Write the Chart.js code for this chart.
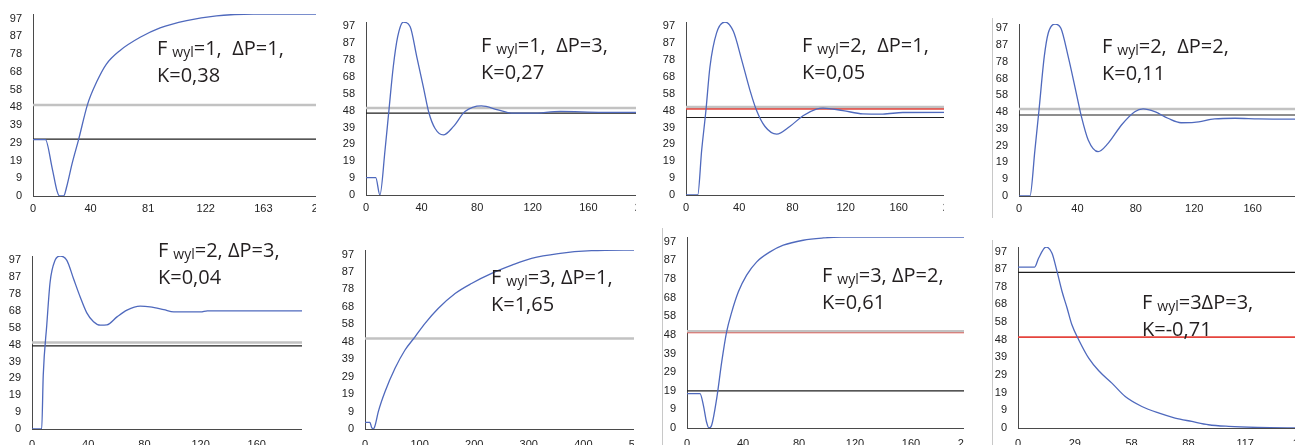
<!DOCTYPE html>
<html>
<head>
<meta charset="utf-8">
<script src="https://cdn.jsdelivr.net/npm/chart.js@4.4.1/dist/chart.umd.min.js"></script>
<style>
  body { margin: 0; background: #fff; width: 1295px; height: 445px; overflow: hidden; position: relative; }
  .panel { position: absolute; overflow: hidden; }
  .panel canvas { position: absolute; }
  .note { position: absolute; font-family: "Open Sans", sans-serif; font-size: 20px; line-height: 25px;
          color: #231f20; white-space: pre; }
  .note .sub { font-size: 14px; position: relative; top: 2px; margin-left: 5px; }
  .sep { position: absolute; width: 1px; background: #c8c8c8; }
</style>
</head>
<body>
<script>
// y axis is the same on every panel: 0..100, labels every 9.75
var yTickLabels = ['0','9','19','29','39','48','58','68','78','87','97'];
var yTickTop = 97.5;

// panel 1: Fwyl=1, dP=1
var p1Time  = [0, 8.8, 13.5, 17, 18.8, 21.7, 24, 27.6, 32.3, 38.7, 45.3, 52, 61.7, 75.9, 90, 108.8, 130, 156, 204];
var p1Value = [31, 31, 15.6, 2.8, 0, 0, 5.5, 17.5, 31, 50.5, 63, 72.5, 80, 87.2, 92.4, 96.4, 99, 100, 100];
var p1XMax = 204;
var p1XLabels = ['0','40','81','122','163','204'];
var p1Lines = [['grey', 50], ['black', 31.2]];

// panel 2: Fwyl=1, dP=3
var p2Time  = [0, 7, 10, 13.7, 16.5, 19.6, 22.8, 26.8, 31.7, 36.5, 41.2, 45.3, 49.6, 55.6, 62.8, 71.2, 83, 95, 104.7, 119, 140, 170, 200];
var p2Value = [10, 10, 0, 26, 49, 74, 91.5, 100, 97.4, 80, 62.7, 47.4, 38.6, 34.7, 39.5, 48.2, 51.5, 49.2, 47.3, 47.3, 48.3, 47.8, 47.8];
var p2XMax = 200;
var p2XLabels = ['0','40','80','120','160','200'];
var p2Lines = [['grey', 50.3], ['black', 47.3]];

// panel 3: Fwyl=2, dP=1
var p3Time  = [0, 8.8, 11.8, 15, 18, 23, 29.3, 35.6, 41.9, 48, 53, 59.4, 68.2, 78, 88, 98, 103, 118, 133, 148, 163, 200];
var p3Value = [0, 0, 26, 49, 74, 93.7, 100, 94.6, 78, 60.8, 49, 39.6, 35.2, 39.6, 45.8, 49.6, 50.2, 48.8, 46.9, 46.8, 47.7, 47.8];
var p3XMax = 200;
var p3XLabels = ['0','40','80','120','160','200'];
var p3Lines = [['grey', 50.8], ['red', 49.8], ['black', 44.8]];

// panel 4: Fwyl=2, dP=2
var p4Time  = [0, 7.5, 10.9, 13.7, 17.3, 20, 24.6, 28.7, 33.7, 38.3, 42.8, 47.4, 54.2, 61, 70.2, 79.3, 85, 93, 102, 111, 120, 134, 148, 164, 200];
var p4Value = [0, 0, 26.7, 50, 81, 94.6, 100, 97.5, 81, 63.5, 46, 32.6, 25.8, 30.6, 41.3, 49, 50.6, 49, 45.2, 42.6, 42.8, 44.8, 45.2, 44.8, 44.6];
var p4XMax = 200;
var p4XLabels = ['0','40','80','120','160','200'];
var p4Lines = [['grey', 50.6], ['black', 47.1]];

// panel 5: Fwyl=2, dP=3
var p5Time  = [0, 6.9, 8, 10.5, 12.9, 16.4, 20, 24.8, 29.5, 34.3, 38.9, 43.8, 48.6, 53.3, 60.5, 67.6, 77, 84, 93.8, 100.9, 120, 124.8, 200];
var p5Value = [0, 0, 31, 60, 85, 97.5, 100, 97.5, 87, 76.3, 67.3, 62, 60, 60.2, 64.8, 68.7, 71, 70.6, 69, 67.7, 67.7, 68.3, 68.3];
var p5XMax = 200;
var p5XLabels = ['0','40','80','120','160','200'];
var p5Lines = [['grey', 50], ['black', 48]];

// panel 6: Fwyl=3, dP=1
var p6Time  = [0, 9, 12, 15, 18, 24.4, 36.6, 55, 73, 91.6, 110, 134, 165, 195, 232, 269, 305, 354, 415, 500];
var p6Value = [3.7, 3.7, 1, 0, 1.5, 9.7, 20.8, 33.9, 44, 51.5, 59, 67.3, 75.7, 81.3, 86.9, 91.5, 95.3, 98, 99.6, 100];
var p6XMax = 500;
var p6XLabels = ['0','100','200','300','400','500'];
var p6Lines = [['grey', 50.6]];

// panel 7: Fwyl=3, dP=2
var p7Time  = [0, 9.3, 11.7, 14, 15.7, 17.6, 21.2, 24.8, 28.3, 32, 36.7, 42.6, 49.8, 59.3, 68.8, 83, 97.4, 110, 200];
var p7Value = [18, 18, 11.9, 3, 0, 1.4, 15.4, 34.6, 50.3, 60.8, 71.3, 80, 87, 92.2, 95.7, 98.3, 99.5, 100, 100];
var p7XMax = 200;
var p7XLabels = ['0','40','80','120','160','200'];
var p7Lines = [['grey', 50.7], ['red', 50], ['black', 19.4]];

// panel 8: Fwyl=3, dP=3
var p8Time  = [0, 8.6, 10.7, 14.5, 17.6, 20.2, 22.8, 25.4, 27.9, 31.4, 36.6, 41.8, 48.6, 55.5, 64.1, 72.7, 81.3, 90, 98.6, 109, 124, 147];
var p8Value = [88.9, 88.9, 93.9, 100, 96.6, 86.5, 75.4, 66.3, 57, 48.8, 38.6, 31.6, 24.8, 17.4, 11.9, 8.3, 5.5, 3.6, 1.8, 0.9, 0.3, 0];
var p8XMax = 147;
var p8XLabels = ['0','29','58','88','117','147'];
var p8Lines = [['black', 86], ['red', 50.2]];

// the labels written on each panel
var noteLine1 = ['=1,  \u0394P=1,', '=1,  \u0394P=3,', '=2,  \u0394P=1,', '=2,  \u0394P=2,',
                 '=2, \u0394P=3,', '=3, \u0394P=1,', '=3, \u0394P=2,', '=3\u0394P=3,'];
var noteLine2 = ['K=0,38', 'K=0,27', 'K=0,05', 'K=0,11', 'K=0,04', 'K=1,65', 'K=0,61', 'K=-0,71'];

var lineColors = { grey: '#c2c2c2', black: '#1e1e1e', red: '#e5443d' };
var lineWidths = { grey: 2.5, black: 1.2, red: 1.6 };

// where each panel sits on the page (clip box, y axis x, x axis y, y of 100, x of xMax)
var layout = [
  { clip: [0, 0, 316, 222],      axisX: 33,   bottom: 195,   top: 13.5,  right: 321,  xPad: 6, note: [157, 36] },
  { clip: [325, 0, 636, 222],    axisX: 366,  bottom: 195,   top: 22,    right: 644,  xPad: 6, note: [481, 33] },
  { clip: [650, 0, 944, 222],    axisX: 686,  bottom: 195,   top: 22.4,  right: 952,  xPad: 6, note: [802, 33] },
  { clip: [975, 0, 1295, 222],   axisX: 1019, bottom: 196,   top: 24,    right: 1311, xPad: 6, note: [1102, 34] },
  { clip: [0, 225, 302, 445],    axisX: 32,   bottom: 429,   top: 255.7, right: 313,  xPad: 9, note: [158, 238] },
  { clip: [325, 225, 634, 445],  axisX: 365,  bottom: 429,   top: 249.8, right: 638,  xPad: 9, note: [491, 265] },
  { clip: [650, 225, 964, 445],  axisX: 687,  bottom: 427.7, top: 236.9, right: 967,  xPad: 9, note: [822, 263] },
  { clip: [975, 225, 1295, 445], axisX: 1018, bottom: 428.3, top: 247.2, right: 1302, xPad: 9, note: [1142, 290] }
];

var panels = [
  { time: p1Time, value: p1Value, xMax: p1XMax, xLabels: p1XLabels, lines: p1Lines },
  { time: p2Time, value: p2Value, xMax: p2XMax, xLabels: p2XLabels, lines: p2Lines },
  { time: p3Time, value: p3Value, xMax: p3XMax, xLabels: p3XLabels, lines: p3Lines },
  { time: p4Time, value: p4Value, xMax: p4XMax, xLabels: p4XLabels, lines: p4Lines },
  { time: p5Time, value: p5Value, xMax: p5XMax, xLabels: p5XLabels, lines: p5Lines },
  { time: p6Time, value: p6Value, xMax: p6XMax, xLabels: p6XLabels, lines: p6Lines },
  { time: p7Time, value: p7Value, xMax: p7XMax, xLabels: p7XLabels, lines: p7Lines },
  { time: p8Time, value: p8Value, xMax: p8XMax, xLabels: p8XLabels, lines: p8Lines }
];

var tickFont = { family: '"Liberation Sans", Arial, sans-serif', size: 11 };

function drawPanel(i) {
  var p = panels[i], g = layout[i];
  var div = document.createElement('div');
  div.className = 'panel';
  div.style.left = g.clip[0] + 'px';
  div.style.top = g.clip[1] + 'px';
  div.style.width = (g.clip[2] - g.clip[0]) + 'px';
  div.style.height = (g.clip[3] - g.clip[1]) + 'px';
  document.body.appendChild(div);

  var padTop = 10, padRight = 20, xAxisH = 30;
  var cTop = g.top - padTop;
  var canvas = document.createElement('canvas');
  var w = Math.round(g.right + padRight - g.clip[0]);
  var h = Math.round(g.bottom + xAxisH - cTop);
  canvas.width = w; canvas.height = h;
  canvas.style.width = w + 'px'; canvas.style.height = h + 'px';
  canvas.style.left = '0px';
  canvas.style.top = (cTop - g.clip[1]) + 'px';
  div.appendChild(canvas);

  var datasets = [{
    data: p.time.map(function (t, k) { return { x: t, y: p.value[k] }; }),
    borderColor: '#4f69bd',
    borderWidth: 1.3,
    pointRadius: 0,
    cubicInterpolationMode: 'monotone'
  }];
  p.lines.forEach(function (ln) {
    datasets.push({
      data: [{ x: 0, y: ln[1] }, { x: p.xMax, y: ln[1] }],
      borderColor: lineColors[ln[0]],
      borderWidth: lineWidths[ln[0]],
      pointRadius: 0
    });
  });

  new Chart(canvas.getContext('2d'), {
    type: 'line',
    data: { datasets: datasets },
    options: {
      responsive: false,
      animation: false,
      events: [],
      layout: { padding: { top: padTop, right: padRight, left: 0, bottom: 0 } },
      plugins: { legend: { display: false }, tooltip: { enabled: false } },
      scales: {
        x: {
          type: 'linear', min: 0, max: p.xMax,
          grid: { display: false, drawTicks: false },
          border: { display: true, color: '#4a4a4a', width: 1 },
          afterBuildTicks: function (s) {
            s.ticks = p.xLabels.map(function (l, k) { return { value: k * p.xMax / 5 }; });
          },
          afterFit: function (s) { s.height = xAxisH; s.paddingLeft = 0; s.paddingRight = 0; },
          ticks: {
            autoSkip: false, maxRotation: 0, padding: g.xPad, color: '#222', font: tickFont,
            callback: function (v, k) { return p.xLabels[k]; }
          }
        },
        y: {
          min: 0, max: 100,
          grid: { display: false, drawTicks: false },
          border: { display: true, color: '#4a4a4a', width: 1 },
          afterBuildTicks: function (s) {
            s.ticks = yTickLabels.map(function (l, k) { return { value: k * yTickTop / 10 }; });
          },
          afterFit: function (s) { s.width = g.axisX - g.clip[0]; s.paddingTop = 0; s.paddingBottom = 0; },
          ticks: {
            autoSkip: false, padding: 11, color: '#222', font: tickFont,
            callback: function (v, k) { return yTickLabels[k]; }
          }
        }
      }
    }
  });

  var note = document.createElement('div');
  note.className = 'note';
  note.style.left = g.note[0] + 'px';
  note.style.top = (g.note[1] - 1) + 'px';
  note.innerHTML = 'F<span class="sub">wyl</span>' + noteLine1[i] + '\n' + noteLine2[i];
  document.body.appendChild(note);
}

for (var i = 0; i < panels.length; i++) drawPanel(i);

// thin grey frame edges that show between some panels
[[992, 18, 200], [662, 228, 217], [992, 240, 205]].forEach(function (s) {
  var d = document.createElement('div');
  d.className = 'sep';
  d.style.left = s[0] + 'px'; d.style.top = s[1] + 'px'; d.style.height = s[2] + 'px';
  document.body.appendChild(d);
});
</script>
</body>
</html>
